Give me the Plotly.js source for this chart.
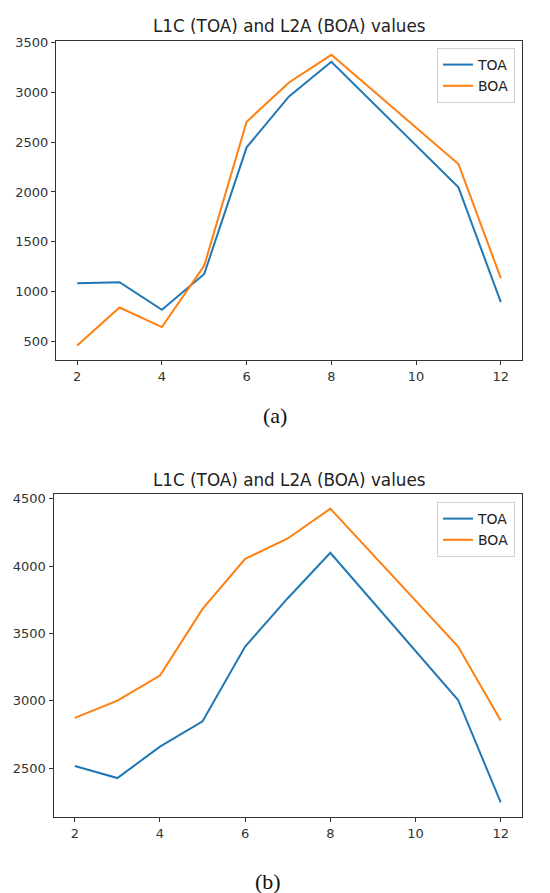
<!DOCTYPE html>
<html>
<head>
<meta charset="utf-8">
<script src="https://cdn.plot.ly/plotly-3.0.1.min.js"></script>
<style>html,body{margin:0;padding:0;background:#fff;}#chart{width:550px;height:893px;}</style>
</head>
<body>
<div id="chart"></div>
<script>
// Shared x positions (band / month index)
const xValues = [2, 3, 4, 5, 6, 7, 8, 11, 12];

// Panel (a)
const toaA = [1085, 1095, 817, 1178, 2448, 2959, 3306, 2047, 894];
const boaA = [460, 841, 644, 1262, 2705, 3099, 3376, 2281, 1135];

// Panel (b)
const toaB = [2517, 2428, 2661, 2849, 3403, 3762, 4099, 3007, 2248];
const boaB = [2874, 3002, 3188, 3683, 4054, 4205, 4426, 3403, 2854];

const seriesNames = ["TOA", "BOA"];
const chartTitle = "L1C (TOA) and L2A (BOA) values";
const captions = ["(a)", "(b)"];
const xTicks = [2, 4, 6, 8, 10, 12];
const yTicksA = [500, 1000, 1500, 2000, 2500, 3000, 3500];
const yTicksB = [2500, 3000, 3500, 4000, 4500];

const blue = "#1f77b4", orange = "#ff7f0e";
const font = "DejaVu Sans, sans-serif";

const traces = [
  {x: xValues, y: toaA, name: seriesNames[0], mode: "lines", line: {color: blue, width: 2}, xaxis: "x", yaxis: "y", legend: "legend"},
  {x: xValues, y: boaA, name: seriesNames[1], mode: "lines", line: {color: orange, width: 2}, xaxis: "x", yaxis: "y", legend: "legend"},
  {x: xValues, y: toaB, name: seriesNames[0], mode: "lines", line: {color: blue, width: 2}, xaxis: "x2", yaxis: "y2", legend: "legend2"},
  {x: xValues, y: boaB, name: seriesNames[1], mode: "lines", line: {color: orange, width: 2}, xaxis: "x2", yaxis: "y2", legend: "legend2"}
];

const H = 893, W = 550;
const py = v => 1 - v / H;
const px = v => v / W;

const axisCommon = {
  showline: true, mirror: true, linecolor: "#333", linewidth: 1,
  ticks: "outside", ticklen: 4, tickwidth: 1, tickcolor: "#333",
  showgrid: false, zeroline: false,
  tickfont: {family: font, size: 13, color: "#333"}
};

const legendCommon = {
  bgcolor: "rgba(255,255,255,0.9)", bordercolor: "#d0d0d0", borderwidth: 1,
  font: {family: font, size: 14, color: "#222"},
  xanchor: "left", yanchor: "top", xref: "paper", yref: "paper",
  tracegroupgap: 0, itemwidth: 30
};

const layout = {
  width: W, height: H,
  margin: {l: 0, r: 0, t: 0, b: 0},
  paper_bgcolor: "#fff", plot_bgcolor: "#fff",
  showlegend: true,
  xaxis: Object.assign({}, axisCommon, {domain: [px(56), px(522)], range: [1.5, 12.5], tickvals: xTicks, anchor: "y"}),
  yaxis: Object.assign({}, axisCommon, {domain: [py(360), py(41)], range: [314, 3515], tickvals: yTicksA, anchor: "x"}),
  xaxis2: Object.assign({}, axisCommon, {domain: [px(53.5), px(522)], range: [1.5, 12.5], tickvals: xTicks, anchor: "y2"}),
  yaxis2: Object.assign({}, axisCommon, {domain: [py(817), py(494)], range: [2139, 4535], tickvals: yTicksB, anchor: "x2"}),
  legend: Object.assign({}, legendCommon, {x: px(437), y: py(48)}),
  legend2: Object.assign({}, legendCommon, {x: px(437), y: py(502)}),
  annotations: [
    {text: chartTitle, xref: "paper", yref: "paper", x: px(289), y: py(26), xanchor: "center", yanchor: "middle", showarrow: false, font: {family: font, size: 16.8, color: "#222"}},
    {text: chartTitle, xref: "paper", yref: "paper", x: px(289), y: py(480), xanchor: "center", yanchor: "middle", showarrow: false, font: {family: font, size: 16.8, color: "#222"}},
    {text: captions[0], xref: "paper", yref: "paper", x: px(275), y: py(415), xanchor: "center", yanchor: "middle", showarrow: false, font: {family: "Liberation Serif, Times New Roman, serif", size: 22, color: "#111"}},
    {text: captions[1], xref: "paper", yref: "paper", x: px(268), y: py(881), xanchor: "center", yanchor: "middle", showarrow: false, font: {family: "Liberation Serif, Times New Roman, serif", size: 22, color: "#111"}}
  ]
};

Plotly.newPlot("chart", traces, layout, {displayModeBar: false, staticPlot: true});
</script>
</body>
</html>
